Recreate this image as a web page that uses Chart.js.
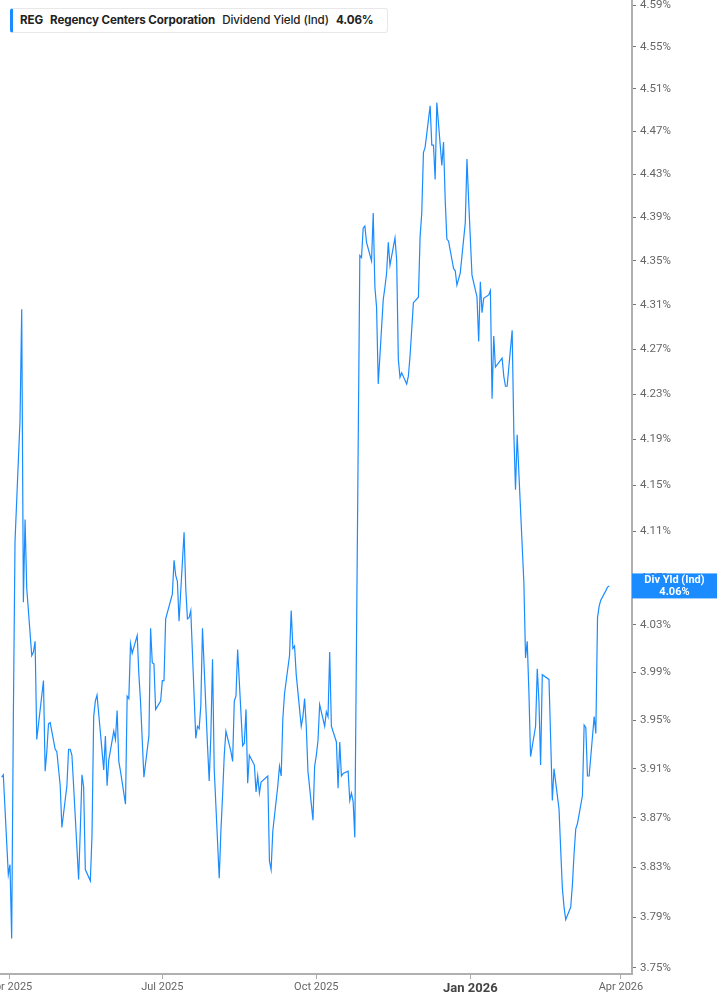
<!DOCTYPE html>
<html>
<head>
<meta charset="utf-8">
<title>REG Dividend Yield</title>
<script src="https://cdn.jsdelivr.net/npm/chart.js@4.4.1/dist/chart.umd.min.js"></script>
<style>
  html, body { margin: 0; padding: 0; background: #fff; overflow: hidden; }
  #wrap { position: relative; width: 717px; height: 1005px; }
  #legend {
    position: absolute; left: 10px; top: 8px; width: 367px; height: 23px;
    background: #fff; border: 1px solid #e8e8e8; border-left: 3px solid #1a8cff;
    border-radius: 3px; font-family: Inter, "Noto Sans", sans-serif; font-size: 11.6px;
    color: #222; line-height: 23px; padding-left: 7px; box-sizing: content-box;
    white-space: nowrap; letter-spacing: -0.1px;
  }
  #legend span { margin-right: 7px; }
  #legend .b { font-weight: 700; }
  #legend .n { font-weight: 500; }
</style>
</head>
<body>
<div id="wrap">
  <canvas id="yieldChart"></canvas>
  <div id="legend">
    <span class="b">REG</span><span class="b">Regency Centers Corporation</span><span class="n">Dividend Yield (Ind)</span><span class="b" id="legendValue"></span>
  </div>
</div>
<script>
// Regency Centers (REG) indicated dividend yield, daily, Mar 2025 - Mar 2026

const firstTradingDay = '2025-03-27';
const marketHolidays = ['2025-04-18', '2025-05-26', '2025-06-19', '2025-07-04', '2025-09-01',
    '2025-11-27', '2025-12-25', '2026-01-01', '2026-01-19', '2026-02-16'];

// yield in %, one value per trading day
const yieldValues = [
    3.903, 3.905, 3.824, 3.832, 3.773, 3.951, 4.101, 4.207, 4.306, 4.049,
    4.120, 4.061, 4.004, 4.007, 4.016, 3.934, 3.983, 3.908, 3.924, 3.947,
    3.948, 3.926, 3.924, 3.910, 3.896, 3.862, 3.896, 3.926, 3.926, 3.921,
    3.896, 3.820, 3.860, 3.905, 3.895, 3.828, 3.819, 3.856, 3.953, 3.966,
    3.971, 3.909, 3.937, 3.896, 3.917, 3.941, 3.934, 3.958, 3.916, 3.908,
    3.881, 3.970, 3.968, 4.014, 4.006, 4.021, 3.988, 3.965, 3.903, 3.937,
    4.027, 3.998, 3.997, 3.959, 3.966, 3.983, 3.983, 4.035, 4.056, 4.085,
    4.072, 4.067, 4.033, 4.109, 4.061, 4.035, 4.036, 4.042, 3.935, 3.945,
    3.943, 3.962, 4.027, 3.929, 3.900, 3.937, 4.001, 3.910, 3.821, 3.859,
    3.888, 3.921, 3.941, 3.924, 3.916, 3.966, 3.970, 4.009, 3.929, 3.931,
    3.959, 3.898, 3.921, 3.913, 3.891, 3.904, 3.890, 3.899, 3.904, 3.835,
    3.828, 3.859, 3.896, 3.912, 3.904, 3.951, 3.972, 4.004, 4.042, 4.010,
    4.012, 3.988, 3.945, 3.953, 3.968, 3.945, 3.908, 3.868, 3.912, 3.921,
    3.933, 3.963, 3.945, 3.957, 3.953, 4.007, 3.945, 3.932, 3.894, 3.932,
    3.904, 3.906, 3.908, 3.884, 3.890, 3.883, 3.854, 4.355, 4.353, 4.380,
    4.382, 4.367, 4.350, 4.394, 4.326, 4.308, 4.239, 4.315, 4.326, 4.339,
    4.367, 4.346, 4.371, 4.351, 4.261, 4.245, 4.249, 4.239, 4.246, 4.264,
    4.312, 4.317, 4.372, 4.394, 4.450, 4.455, 4.494, 4.457, 4.457, 4.425,
    4.497, 4.438, 4.460, 4.406, 4.370, 4.368, 4.343, 4.341, 4.328, 4.339,
    4.385, 4.444, 4.406, 4.337, 4.317, 4.277, 4.331, 4.303, 4.316, 4.319,
    4.323, 4.226, 4.282, 4.254, 4.262, 4.246, 4.237, 4.237, 4.287, 4.196,
    4.146, 4.194, 4.161, 4.066, 4.002, 4.016, 3.974, 3.920, 3.945, 3.993,
    3.966, 3.913, 3.988, 3.984, 3.935, 3.884, 3.910, 3.877, 3.844, 3.813,
    3.798, 3.788, 3.798, 3.816, 3.841, 3.861, 3.865, 3.888, 3.946, 3.944,
    3.904, 3.904, 3.953, 3.939, 4.036, 4.046, 4.051, 4.059, 4.062, 4.063
];

const xTickDates = ['2025-04-01', '2025-07-01', '2025-10-01', '2026-01-01', '2026-04-01'];
const xTickLabels = ['Apr 2025', 'Jul 2025', 'Oct 2025', 'Jan 2026', 'Apr 2026'];
const yTicks = [3.75, 3.79, 3.83, 3.87, 3.91, 3.95, 3.99, 4.03, 4.07, 4.11, 4.15,
    4.19, 4.23, 4.27, 4.31, 4.35, 4.39, 4.43, 4.47, 4.51, 4.55, 4.59];

const DAY = 86400000;
const origin = Date.parse('2025-04-01T00:00:00Z');
const dayOffset = s => (Date.parse(s + 'T00:00:00Z') - origin) / DAY;

// walk the calendar, skipping weekends and exchange holidays
const points = [];
let t = Date.parse(firstTradingDay + 'T00:00:00Z');
while (points.length < yieldValues.length) {
    const d = new Date(t);
    const iso = d.toISOString().slice(0, 10);
    const dow = d.getUTCDay();
    if (dow !== 0 && dow !== 6 && !marketHolidays.includes(iso)) {
        points.push({ x: (t - origin) / DAY, y: yieldValues[points.length] });
    }
    t += DAY;
}

const lineBlue = '#1a8cff';
const lastValue = yieldValues[yieldValues.length - 1];
document.getElementById('legendValue').textContent = lastValue.toFixed(2) + '%';

// blue price badge on the right axis
const lastBadge = {
    id: 'lastBadge',
    afterDraw(chart) {
        const ctx = chart.ctx;
        const yScale = chart.scales.y;
        const yPix = yScale.getPixelForValue(lastValue);
        const left = chart.chartArea.right;
        const right = chart.width;
        ctx.save();
        ctx.fillStyle = lineBlue;
        ctx.fillRect(left, yPix - 12.5, right - left, 25);
        ctx.fillStyle = '#fff';
        ctx.font = 'bold 11px Roboto, sans-serif';
        ctx.textAlign = 'center';
        ctx.textBaseline = 'middle';
        const cx = (left + right) / 2;
        ctx.fillText('Div Yld (Ind)', cx, yPix - 5.5);
        ctx.fillText(lastValue.toFixed(2) + '%', cx, yPix + 6);
        ctx.restore();
    }
};

const chart = new Chart(document.getElementById('yieldChart').getContext('2d'), {
    type: 'line',
    data: {
        datasets: [{
            label: 'Dividend Yield (Ind)',
            data: points,
            borderColor: lineBlue,
            borderWidth: 1.2,
            pointRadius: 0,
            tension: 0,
            fill: false
        }]
    },
    options: {
        responsive: true,
        maintainAspectRatio: false,
        animation: false,
        layout: { padding: 0 },
        plugins: {
            legend: { display: false },
            tooltip: { enabled: false }
        },
        scales: {
            x: {
                type: 'linear',
                min: -5.97,
                max: 371.6,
                afterBuildTicks: s => { s.ticks = xTickDates.map(d => ({ value: dayOffset(d) })); },
                afterFit: s => { s.height = 31; s.paddingLeft = 0; s.paddingRight = 0; },
                grid: { drawOnChartArea: false, tickLength: 5, tickColor: '#aaa' },
                border: { display: true, color: '#b0b0b0', width: 2 },
                ticks: {
                    padding: 2,
                    autoSkip: false,
                    maxRotation: 0,
                    callback: (v, i) => xTickLabels[i],
                    color: c => c.index === 3 ? '#444' : '#666',
                    font: c => c.index === 3
                        ? { family: 'Roboto', size: 13, weight: 'bold' }
                        : { family: 'Roboto', size: 11 }
                }
            },
            y: {
                type: 'logarithmic',
                position: 'right',
                min: 3.745,
                max: 4.595,
                afterBuildTicks: s => { s.ticks = yTicks.map(v => ({ value: v })); },
                afterFit: s => { s.width = 85; s.paddingTop = 0; s.paddingBottom = 0; },
                grid: { drawOnChartArea: false, tickLength: 4, tickColor: '#777' },
                border: { display: true, color: '#b0b0b0', width: 2 },
                ticks: {
                    padding: 4,
                    autoSkip: false,
                    color: '#666',
                    font: { family: 'Roboto', size: 11.5 },
                    callback: v => Number(v).toFixed(2) + '%'
                }
            }
        }
    },
    plugins: [lastBadge]
});
</script>
</body>
</html>
